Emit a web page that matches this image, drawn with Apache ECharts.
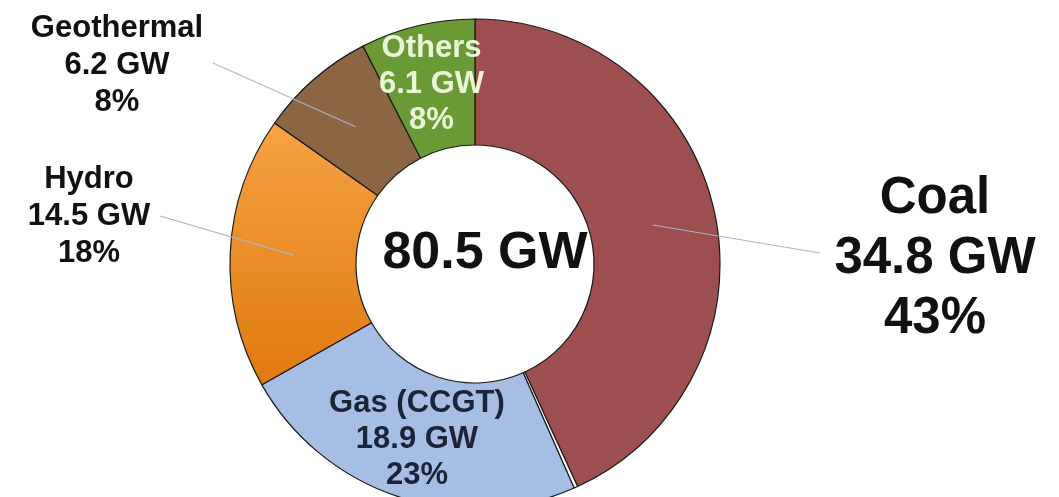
<!DOCTYPE html>
<html>
<head>
<meta charset="utf-8">
<script src="https://cdn.jsdelivr.net/npm/echarts@6/dist/echarts.min.js"></script>
<style>
  html, body { margin: 0; padding: 0; background: #fff; }
  #chart { width: 1059px; height: 497px; }
</style>
</head>
<body>
<div id="chart"></div>
<script>
// installed capacity by source (GW); the second entry is the thin unlabelled sliver
const categories = ['Coal', '', 'Gas (CCGT)', 'Hydro', 'Geothermal', 'Others'];
const capacityGW = [34.8, 0.2, 18.9, 14.5, 6.2, 6.1];
const totalText = '80.5 GW';

const sliceColors = [
  '#9D4F50',
  '#FFFFFF',
  '#A6BEE3',
  new echarts.graphic.LinearGradient(0, 0, 0, 1, [
    { offset: 0, color: '#F6A244' },
    { offset: 1, color: '#DF790E' }
  ]),
  '#8C6643',
  '#6A9A36'
];

// labels drawn inside the ring
const insideLabels = {
  2: { color: '#1B2438' },
  5: { color: '#EAF7D6' }
};
// labels placed outside with leader lines
const outsideLabels = {
  0: { x: 935, y: 259, size: 51, lh: 60, end: [820, 253] },
  3: { x: 89, y: 216, size: 31, lh: 37, end: [160, 216] },
  4: { x: 117, y: 65, size: 31, lh: 37, end: [213, 63] }
};

const FONT = 'Liberation Sans, Arial, sans-serif';
const CENTER = [475, 264];

var myChart = echarts.init(document.getElementById('chart'));

const ringData = categories.map(function (name, i) {
  const inside = insideLabels[i];
  return {
    name: name,
    value: capacityGW[i],
    itemStyle: { color: sliceColors[i] },
    label: inside ? { show: true, color: inside.color } : { show: false }
  };
});

const guideData = categories.map(function (name, i) {
  const out = outsideLabels[i];
  return {
    name: name,
    value: capacityGW[i],
    label: out ? { show: true, fontSize: out.size, lineHeight: out.lh } : { show: false },
    labelLine: { show: !!out }
  };
});

let option = {
  animation: false,
  backgroundColor: '#ffffff',
  graphic: [
    {
      type: 'text',
      x: 485,
      y: 254,
      style: {
        text: totalText,
        font: 'bold 52px ' + FONT,
        fill: '#111111',
        textAlign: 'center',
        textVerticalAlign: 'middle'
      },
      z: 10
    }
  ],
  series: [
    {
      type: 'pie',
      z: 2,
      center: CENTER,
      radius: [119, 245],
      startAngle: 90,
      clockwise: true,
      avoidLabelOverlap: false,
      percentPrecision: 0,
      emphasis: { disabled: true },
      itemStyle: { borderColor: '#1a1a1a', borderWidth: 1.2 },
      label: {
        position: 'inside',
        formatter: '{b}\n{c} GW\n{d}%',
        fontFamily: FONT,
        fontWeight: 'bold',
        fontSize: 31,
        lineHeight: 36
      },
      labelLine: { show: false },
      data: ringData
    },
    {
      // invisible inner ring, used only to anchor the leader lines inside the slices
      type: 'pie',
      z: 5,
      center: CENTER,
      radius: [0, 182],
      startAngle: 90,
      clockwise: true,
      silent: true,
      avoidLabelOverlap: false,
      percentPrecision: 0,
      itemStyle: { color: 'rgba(0,0,0,0)', borderWidth: 0 },
      label: {
        position: 'outside',
        formatter: '{b}\n{c} GW\n{d}%',
        fontFamily: FONT,
        fontWeight: 'bold',
        color: '#111111',
        align: 'center'
      },
      labelLine: {
        length: 10,
        length2: 10,
        lineStyle: { color: '#A9B6CF', width: 1.2 }
      },
      labelLayout: function (params) {
        const out = outsideLabels[params.dataIndex];
        if (!out) return {};
        const res = { x: out.x, y: out.y, align: 'center', verticalAlign: 'middle' };
        if (params.labelLinePoints && params.labelLinePoints.length) {
          res.labelLinePoints = [params.labelLinePoints[0], out.end];
        }
        return res;
      },
      data: guideData
    }
  ]
};

myChart.setOption(option);
</script>
</body>
</html>
